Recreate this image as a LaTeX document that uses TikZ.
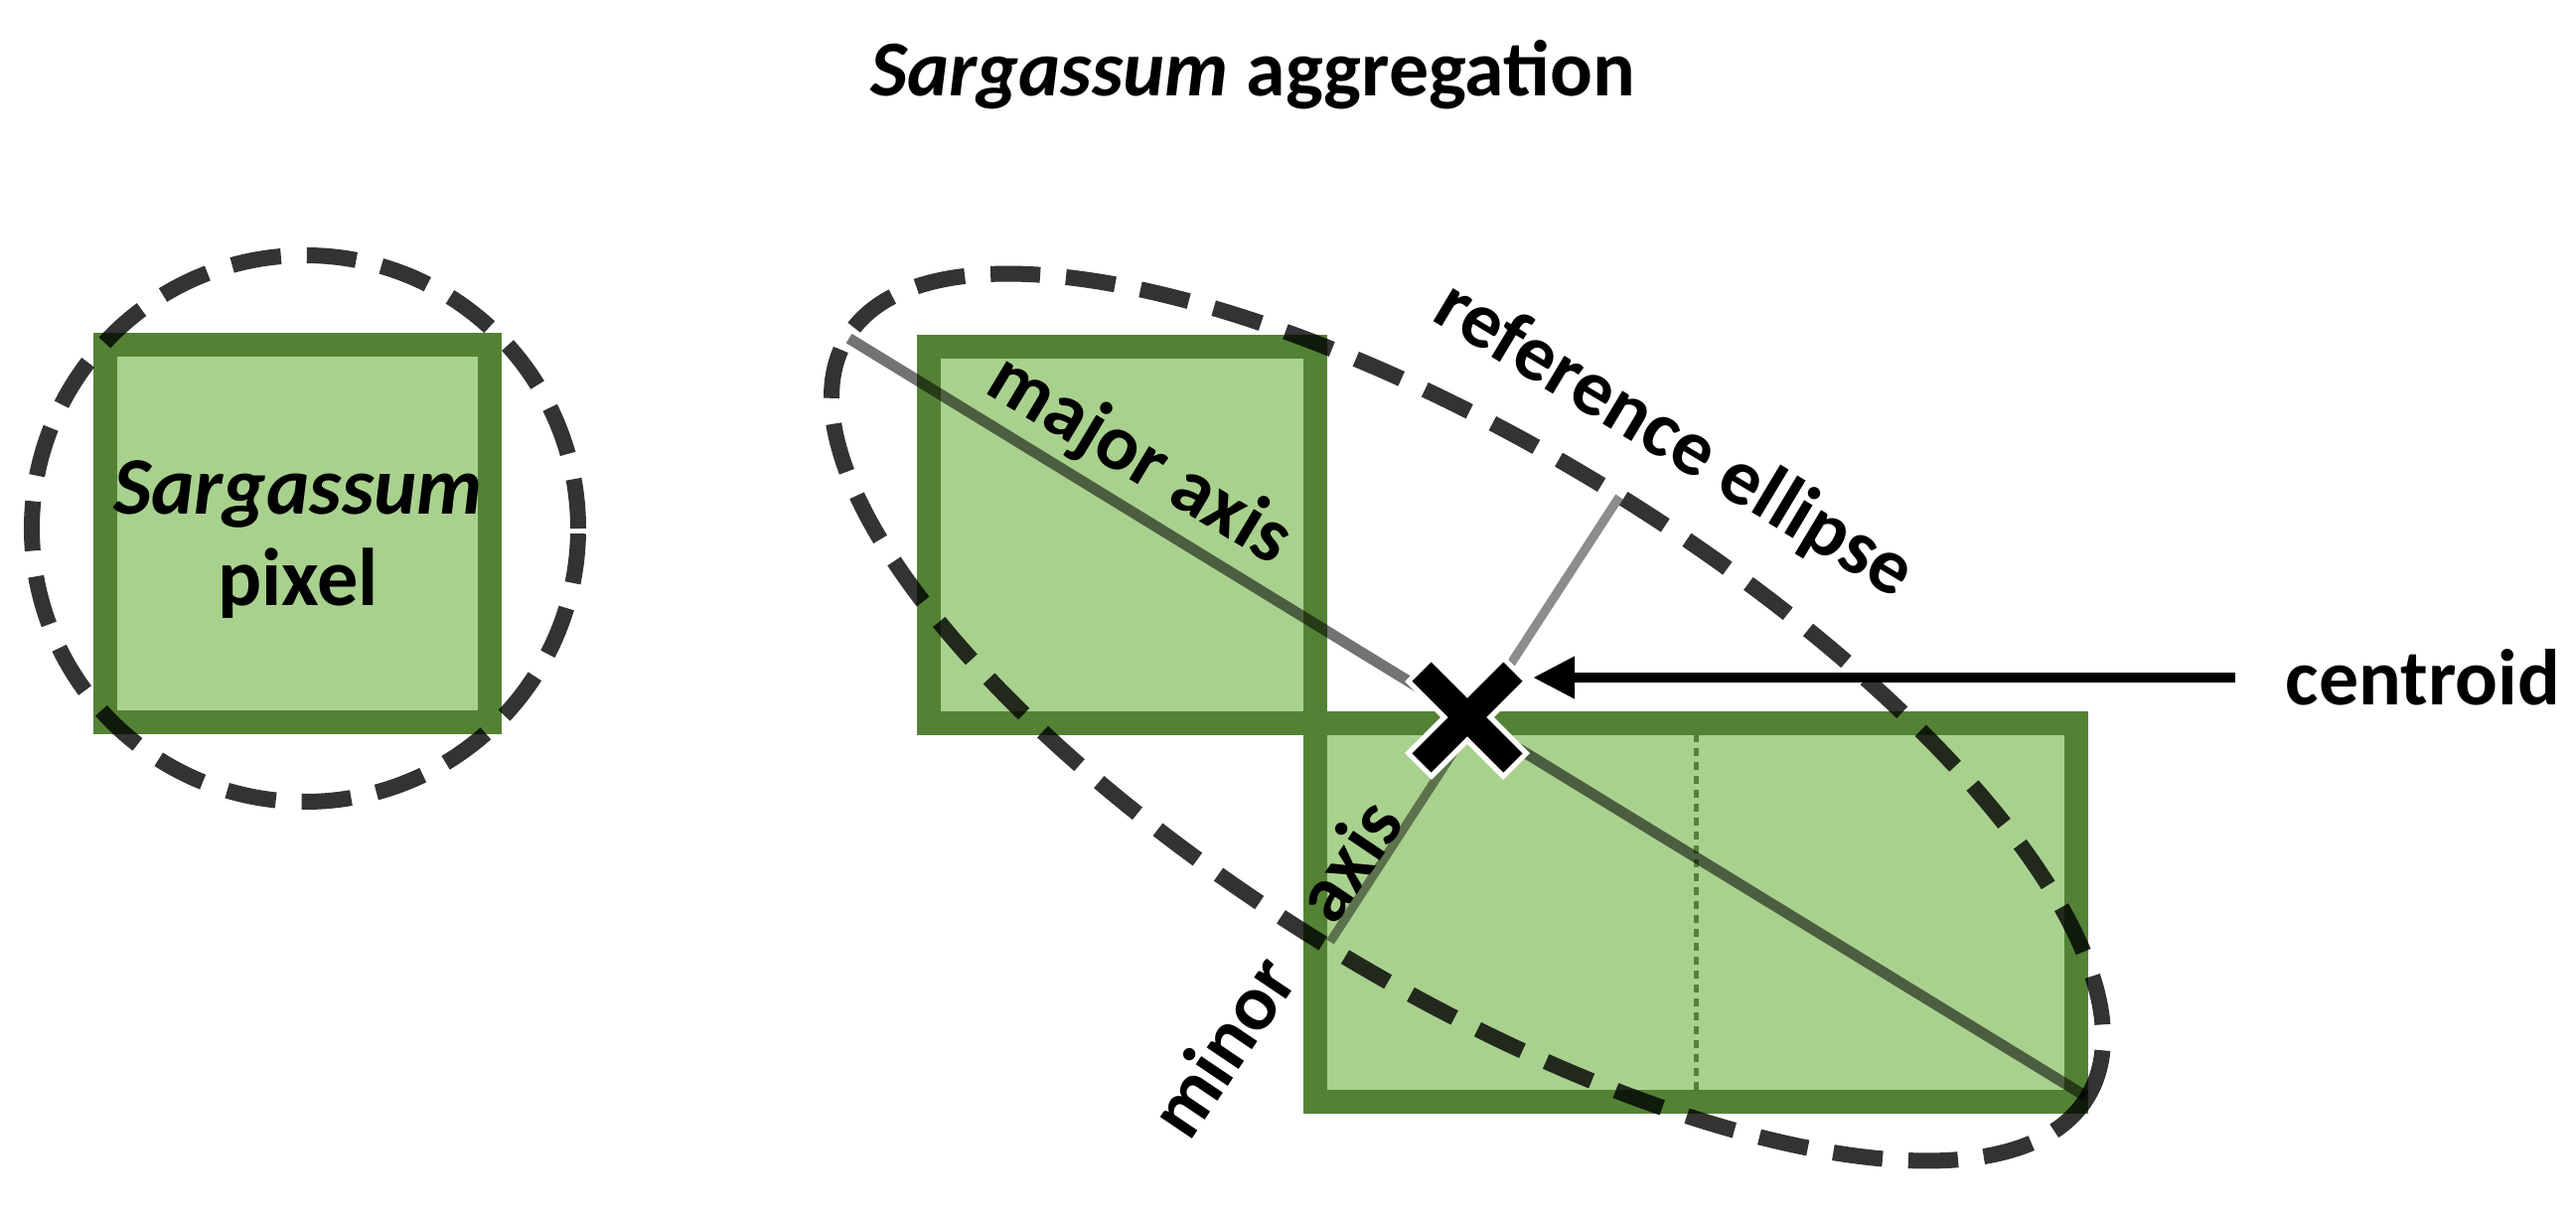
\documentclass[tikz,border=0pt]{standalone}
\usepackage{fontspec}
\setmainfont{Carlito}
\usetikzlibrary{arrows.meta}
\usetikzlibrary{positioning}
\usetikzlibrary{calc}
\definecolor{leaf}{HTML}{A9D18E}
\definecolor{stem}{HTML}{548235}
\tikzset{%
  pixel/.style={draw=stem, fill=leaf, line width=0.24cm},% one Sargassum pixel
  outline/.style={draw=black, draw opacity=.8, line width=0.16cm,
    dash pattern=on 0.5cm off 0.26cm},% dashed circle / reference ellipse
  axis/.style={draw=black, draw opacity=.55, line width=0.11cm},% major / minor axis
  label/.style={font=\fontsize{22.7}{26}\selectfont\bfseries, inner sep=0pt},% texts
  pointer/.style={line width=0.1cm, -{Triangle[length=0.42cm, width=0.40cm]}}% arrow to centroid
}
\newcommand*{\tilt}{-31.5}

\begin{document}
\begin{tikzpicture}[x=0.01cm, y=0.01cm]
  \useasboundingbox (0,0) rectangle (2593,1226);
  % Title:
  \node[label, anchor=base] (title) at (1261,1129) {\textit{Sargassum} aggregation};
  % The single pixel and its circle:
  \draw[pixel] (106,499) rectangle (493,879);
  \node[label, align=center, font=\fontsize{23.4}{26}\selectfont\bfseries] (pix) at (300,683)
    {\textit{Sargassum}\\pixel};
  \draw[outline] (307,694) circle (275);
  % The aggregation of three pixels:
  \draw[pixel] (935,498) rectangle (1324,877);
  \draw[pixel] (1324,117) rectangle (2090,498);
  \draw[stem, line width=0.05cm, dash pattern=on 0.08cm off 0.06cm] (1707,129) -- (1707,486);
  % Centroid, axes and reference ellipse:
  \coordinate (cen) at (1477,504);
  \coordinate (majA) at ($(cen)+(180+\tilt:730)$);
  \coordinate (majB) at ($(cen)+(\tilt:730)$);
  \coordinate (minA) at (1630,726);
  \coordinate (minB) at (1339,278);
  \draw[axis] (majA) -- (majB);
  \draw[axis, line width=0.09cm, draw opacity=.45] (minA) -- (minB);
  \draw[outline] (cen) ellipse [x radius=732, y radius=270, rotate=\tilt];
  % The cross at the centroid:
  \draw[white, line width=0.38cm] ($(cen)+(45:70)$) -- ($(cen)+(225:70)$)
    ($(cen)+(135:70)$) -- ($(cen)+(-45:70)$);
  \draw[black, line width=0.27cm] ($(cen)+(45:65)$) -- ($(cen)+(225:65)$)
    ($(cen)+(135:65)$) -- ($(cen)+(-45:65)$);
  % Labels:
  \node[label, rotate=-31] (major) at (1147,762) {major axis};
  \node[label, rotate=-31] (ref) at (1685,782) {reference ellipse};
  \node[label, rotate=56] (minor) at (1283,252) {minor\hspace{0.8em}axis};
  \node[label] (cent) at (2439,544) {centroid};
  \coordinate (tip) at (1543,544);
  \draw[pointer] ([xshift=-0.5cm]cent.west) -- (tip);
\end{tikzpicture}
\end{document}
